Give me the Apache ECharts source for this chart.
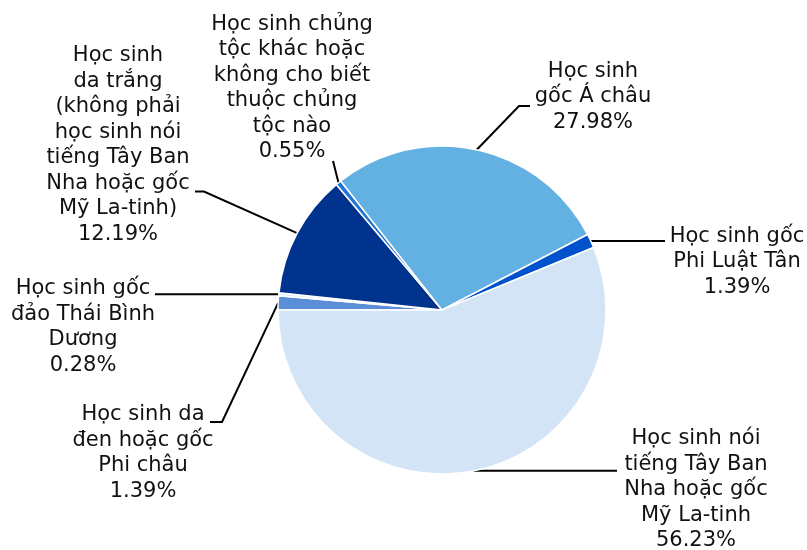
<!DOCTYPE html>
<html>
<head>
<meta charset="utf-8">
<script src="https://cdn.jsdelivr.net/npm/echarts@6/dist/echarts.min.js"></script>
<style>
html,body{margin:0;padding:0;background:#fff;}
#chart{width:807px;height:550px;}
</style>
</head>
<body>
<div id="chart"></div>
<script>
// Categories (clockwise from 9 o'clock), with the label line breaks of the reference
const categories = [
  "Học sinh da\nđen hoặc gốc\nPhi châu",
  "Học sinh gốc\nđảo Thái Bình\nDương",
  "Học sinh\nda trắng\n(không phải\nhọc sinh nói\ntiếng Tây Ban\nNha hoặc gốc\nMỹ La-tinh)",
  "Học sinh chủng\ntộc khác hoặc\nkhông cho biết\nthuộc chủng\ntộc nào",
  "Học sinh\ngốc Á châu",
  "Học sinh gốc\nPhi Luật Tân",
  "Học sinh nói\ntiếng Tây Ban\nNha hoặc gốc\nMỹ La-tinh"
];
const percentValues = [1.39, 0.28, 12.19, 0.55, 27.98, 1.39, 56.23];
const sliceColors = ["#5b8ed6", "#e3eef9", "#00338d", "#1f74d6", "#63b0e3", "#0052cc", "#d2e4f5"];

// Label placement: label block centre and leader-line bend/end points
// (hy: true => horizontal leader whose end keeps the slice point's y)
const labelPlacement = [
  { cx: 143, cy: 453, pts: [[222, 422], [210, 422]] },
  { cx: 83,  cy: 327, hy: true, pts: [[155, 0]] },
  { cx: 118, cy: 145, pts: [[204, 191.5], [195, 191.5]] },
  { cx: 292, cy: 88,  pts: [[333, 161]] },
  { cx: 593, cy: 97,  pts: [[519, 106], [530, 106]] },
  { cx: 737, cy: 262, hy: true, pts: [[665, 0]] },
  { cx: 696, cy: 490, hy: true, pts: [[617, 0]] }
];

const chart = echarts.init(document.getElementById('chart'), null, { renderer: 'canvas' });
const center = [442, 310];
const radius = 164;

chart.setOption({
  backgroundColor: '#ffffff',
  animation: false,
  series: [{
    type: 'pie',
    center: center,
    radius: radius,
    startAngle: 180,
    clockwise: true,
    avoidLabelOverlap: false,
    itemStyle: { borderColor: '#ffffff', borderWidth: 1.5 },
    label: {
      show: true,
      position: 'outside',
      fontFamily: 'DejaVu Sans',
      fontSize: 21,
      lineHeight: 25.5,
      color: '#111111',
      align: 'center',
      formatter: function (p) { return p.name + '\n' + p.value.toFixed(2) + '%'; }
    },
    labelLine: { show: true, smooth: false, lineStyle: { color: '#000000', width: 2 } },
    labelLayout: function (params) {
      const lp = labelPlacement[params.dataIndex];
      const p0 = (params.labelLinePoints && params.labelLinePoints[0]) ? params.labelLinePoints[0] : center;
      const rest = lp.pts.map(function (q) { return [q[0], lp.hy ? p0[1] : q[1]]; });
      return {
        x: lp.cx,
        y: lp.cy,
        align: 'center',
        verticalAlign: 'middle',
        labelLinePoints: [[p0[0], p0[1]]].concat(rest)
      };
    },
    data: categories.map(function (c, i) {
      return { name: c, value: percentValues[i], itemStyle: { color: sliceColors[i] } };
    })
  }]
});
</script>
</body>
</html>
